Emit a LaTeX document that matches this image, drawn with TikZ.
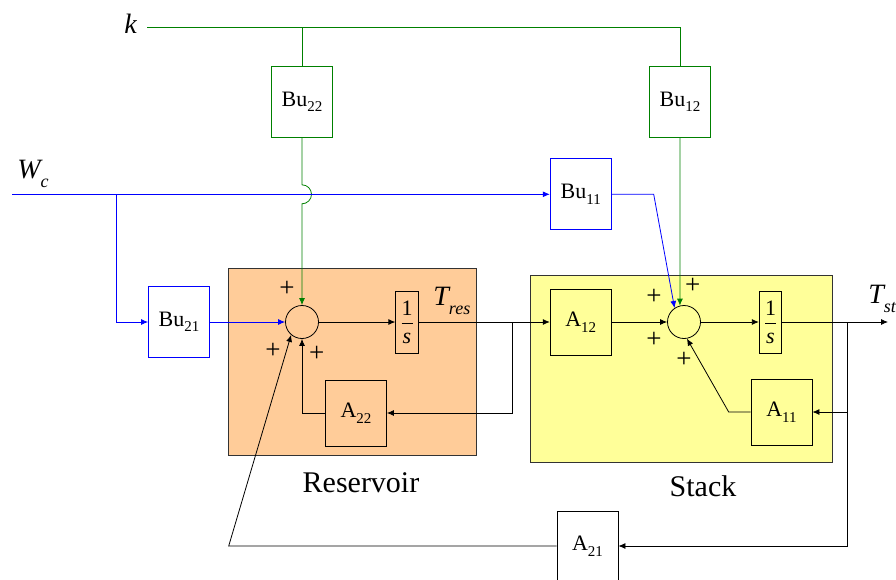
\documentclass[tikz,border=0pt]{standalone}
\usepackage{fontspec}
\setmainfont{Liberation Serif}
\usepackage{amsmath}
\usetikzlibrary{arrows.meta}
\definecolor{resorange}{RGB}{255,204,153}
\definecolor{stackyellow}{RGB}{255,255,153}
\definecolor{ublue}{RGB}{0,0,255}
\definecolor{kgreen}{RGB}{0,128,0}
\newcommand{\blksub}[1]{\raisebox{-0.25em}{\fontsize{15}{15}\selectfont #1}}
\newcommand{\varsub}[1]{\raisebox{-0.35em}{\fontsize{18}{18}\selectfont\itshape #1}}

\begin{document}
\begin{tikzpicture}[x=1pt, y=-1pt, line width=0.8pt,
		sig/.style={-{Latex[length=7pt,width=6pt]}},
		blk/.style={draw, minimum width=61pt, minimum height=66pt, inner sep=0pt, font=\fontsize{22}{24}\selectfont},
		bublk/.style={blk, minimum height=71pt},
		integ/.style={draw, minimum width=22.5pt, minimum height=62pt, inner sep=0pt, font=\fontsize{22}{24}\selectfont},
		sumpt/.style={draw, circle, minimum size=33pt, inner sep=0pt},
		plussign/.style={font=\fontsize{27}{27}\selectfont, inner sep=0pt},
		varlbl/.style={font=\fontsize{28}{28}\selectfont\itshape, inner sep=0pt},
		subsys/.style={draw=black!80, inner sep=0pt},
		capt/.style={font=\fontsize{30}{30}\selectfont, inner sep=0pt, anchor=base}]
	\useasboundingbox (0,0) rectangle (896,579);
	% subsystems
	\node[subsys, fill=resorange, minimum width=248pt, minimum height=187.4pt] (resv) at (352.7,362) {};
	\node[subsys, fill=stackyellow, minimum width=302pt, minimum height=187.3pt] (stk) at (681.7,368.7) {};
	\node[capt] (resname) at (361,492.3) {Reservoir};
	\node[capt] (stkname) at (703,496) {Stack};
	% blocks
	\node[bublk, draw=kgreen] (bu22) at (302,102) {Bu\blksub{22}};
	\node[bublk, draw=kgreen] (bu12) at (680,102) {Bu\blksub{12}};
	\node[bublk, draw=ublue] (bu11) at (580.7,194.3) {Bu\blksub{11}};
	\node[bublk, draw=ublue] (bu21) at (179,322) {Bu\blksub{21}};
	\node[sumpt] (sum1) at (302,322) {};
	\node[integ] (int1) at (407,322) {$\dfrac{\text{1}}{\textit{s}}$};
	\node[blk] (a22) at (356,413) {A\blksub{22}};
	\node[blk] (a12) at (580.7,322) {A\blksub{12}};
	\node[sumpt] (sum2) at (684,322) {};
	\node[integ] (int2) at (770.5,322) {$\dfrac{\text{1}}{\textit{s}}$};
	\node[blk] (a11) at (781.5,412) {A\blksub{11}};
	\node[blk, minimum height=69pt] (a21) at (587.5,546) {A\blksub{21}};
	% signals
	\node[varlbl, anchor=base west] (kl) at (124,33) {k};
	\node[varlbl, anchor=base west] (wcl) at (17,178) {W\varsub{c}};
	\node[varlbl, anchor=base west] (tresl) at (433,305) {T\varsub{res}};
	\node[varlbl, anchor=base west] (tstl) at (868,303) {T\varsub{st}};
	\coordinate (kstart) at (147,27);
	\coordinate (wcstart) at (12,194.3);
	\coordinate (wcfork) at (116,194.3);
	\coordinate (bu11bend) at (653.7,194.3);
	\coordinate (jumptop) at (302,184.8);
	\coordinate (tresfork) at (512.3,322);
	\coordinate (tstfork) at (847.3,322);
	\coordinate (tstlow) at (847.3,546);
	\coordinate (tstend) at (888,322);
	\coordinate (a11bend) at (728.7,412);
	\coordinate (a21bend) at (228.7,546);

	\draw[kgreen] (kstart) -| (bu12);
	\draw[kgreen] (bu22.north |- kstart) -- (bu22);
	\draw[kgreen, sig] (bu22.south) -- (jumptop) arc[start angle=-90, end angle=90, radius=9.5] -- (sum1.north);
	\draw[kgreen, sig] (bu12) -- (sum2.104);
	\draw[ublue, sig] (wcstart) -- (bu11);
	\draw[ublue, sig] (wcfork) |- (bu21);
	\draw[ublue, sig] (bu21) -- (sum1);
	\draw[ublue, sig] (bu11) -- (bu11bend) -- (sum2.124);

	\draw[sig] (sum1) -- (int1);
	\draw[sig] (int1) -- (a12);
	\draw[sig] (tresfork) |- (a22);
	\draw[sig] (a22) -| (sum1);
	\draw[sig] (a12) -- (sum2);
	\draw[sig] (sum2) -- (int2);
	\draw[sig] (int2) -- (tstend);
	\draw[sig] (tstfork) |- (a11);
	\draw[sig] (tstfork) -- (tstlow) -- (a21);
	\draw[sig] (a11) -- (a11bend) -- (sum2.-80);
	\draw[sig] (a21) -- (a21bend) -- (sum1.230);

	\node[plussign] (p11) at (287,289) {+};
	\node[plussign] (p12) at (273,350.7) {+};
	\node[plussign] (p13) at (316.7,354.3) {+};
	\node[plussign] (p21) at (654,296.7) {+};
	\node[plussign] (p22) at (654,340) {+};
	\node[plussign] (p23) at (692.7,286) {+};
	\node[plussign] (p24) at (684,360) {+};
\end{tikzpicture}
\end{document}
